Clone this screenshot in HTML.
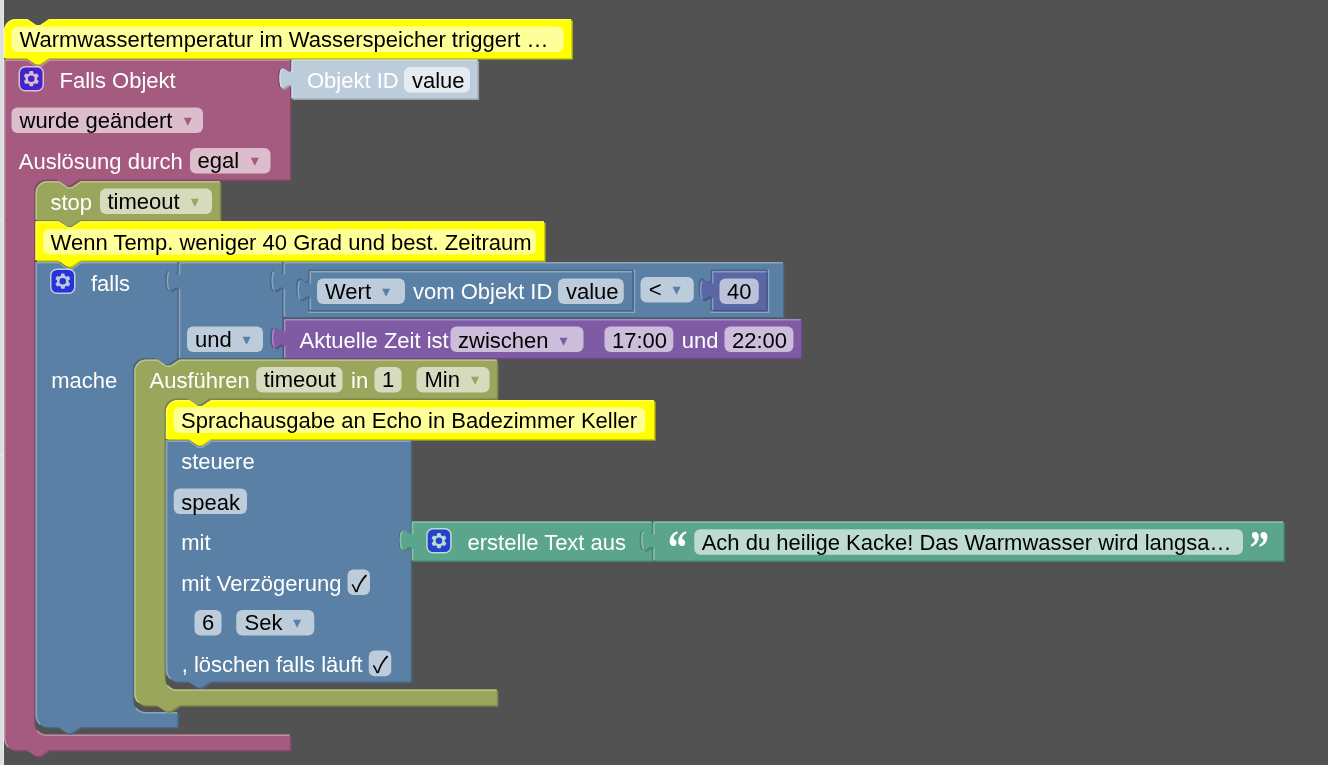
<!DOCTYPE html>
<html><head><meta charset="utf-8"><title>Blockly</title>
<style>
html,body{margin:0;padding:0;background:#525252;overflow:hidden}
svg{display:block}
text{font-family:"Liberation Sans",Arial,sans-serif;font-size:22px;white-space:pre}
text.ar{font-family:"DejaVu Sans","Liberation Sans",sans-serif;font-size:16.2px}
text.ck{font-family:"Noto Sans CJK SC","DejaVu Sans",sans-serif;font-size:22.6px;text-anchor:middle}
text.q{font-family:"Liberation Serif",serif;font-weight:bold;font-size:49px}
</style></head><body>
<svg width="1328" height="765" viewBox="0 0 1328 765">
<rect width="1328" height="765" fill="#525252"/>
<rect x="0" y="0" width="4" height="765" fill="#dddddd"/>
<rect x="3" y="0" width="1" height="765" fill="#e6eaea"/>
<rect x="0" y="219" width="3" height="1" fill="#e8e8e8"/>
<rect x="0" y="455" width="3" height="1" fill="#e8e8e8"/>
<g transform="translate(4,19)">
<path transform="translate(1.5,1.5)" fill="#cccc00" d="M 0 12 a 12 12 0 0 1 12 -12 H 22.5 l 9 6 4.5 0 9 -6 H 567.19 V 39 V 39 H 45 l -9 6 -4.5 0 -9 -6 H 0 z"/>
<path fill="#ffff00" d="M 0 12 a 12 12 0 0 1 12 -12 H 22.5 l 9 6 4.5 0 9 -6 H 567.19 V 39 V 39 H 45 l -9 6 -4.5 0 -9 -6 H 0 z"/>
<path fill="none" stroke="#ffff4c" stroke-width="1.5" stroke-linecap="round" d="M 0.75 11.25 A 11.25 11.25 0 0 1 12 0.75 H 23.25 l 9 6 4.5 0 9 -6 H 566.44 M 0.75 38.25 V 12"/>
</g>
<rect x="11.5" y="26.5" width="551.9" height="25.5" rx="6" ry="6" fill="#ffff99"/>
<text x="19.5" y="46.6" fill="#000">Warmwassertemperatur im Wasserspeicher triggert …</text>
<g transform="translate(4,59.5)">
<path transform="translate(1.5,1.5)" fill="#844966" d="M 0 0 H 22.5 l 9 6 4.5 0 9 -6 H 286 V 0 v 7.5 c 0 15 -12 -12 -12 11.25 s 12 -3.75 12 11.25 V 40.5 V 81 V 120 V 120 H 75 l -9 6 -4.5 0 -9 -6 h -10.5 a 12 12 0 0 0 -12 12 v 530.89 a 12 12 0 0 0 12 12 H 286 V 690.5 V 690.5 H 45 l -9 6 -4.5 0 -9 -6 H 12 a 12 12 0 0 1 -12 -12 z"/>
<path fill="#a55b80" d="M 0 0 H 22.5 l 9 6 4.5 0 9 -6 H 286 V 0 v 7.5 c 0 15 -12 -12 -12 11.25 s 12 -3.75 12 11.25 V 40.5 V 81 V 120 V 120 H 75 l -9 6 -4.5 0 -9 -6 h -10.5 a 12 12 0 0 0 -12 12 v 530.89 a 12 12 0 0 0 12 12 H 286 V 690.5 V 690.5 H 45 l -9 6 -4.5 0 -9 -6 H 12 a 12 12 0 0 1 -12 -12 z"/>
<path fill="none" stroke="#c08ca6" stroke-width="1.5" stroke-linecap="round" d="M 0.75 0.75 H 23.25 l 9 6 4.5 0 9 -6 H 285.25 M 278.5 28.95 l 5.52 -3.15 M 33.51 671.38 a 12.75 12.75 0 0 0 9.24 4.26 H 285.25 M 4.05 687.19 A 11.25 11.25 0 0 1 0.75 678.5 V 0.75"/>
</g>
<g transform="translate(19.25,66.75) scale(1.5)" opacity="0.6"><rect x="0" y="0" width="16" height="16" rx="4" ry="4" fill="#00f" stroke="#fff" stroke-width="1"/><path fill="#fff" d="m4.203,7.296 0,1.368 -0.92,0.677 -0.11,0.41 0.9,1.559 0.41,0.11 1.043,-0.457 1.187,0.683 0.127,1.134 0.3,0.3 1.8,0 0.3,-0.299 0.127,-1.138 1.185,-0.682 1.046,0.458 0.409,-0.11 0.9,-1.559 -0.11,-0.41 -0.92,-0.677 0,-1.366 0.92,-0.677 0.11,-0.41 -0.9,-1.559 -0.409,-0.109 -1.046,0.458 -1.185,-0.682 -0.127,-1.138 -0.3,-0.299 -1.8,0 -0.3,0.3 -0.126,1.135 -1.187,0.682 -1.043,-0.457 -0.41,0.11 -0.899,1.559 0.108,0.409z"/><circle cx="8" cy="8" r="2.7" fill="#00f" stroke="#fff" stroke-width="1"/></g>
<text x="59.5" y="88.1" fill="#fff">Falls Objekt</text>
<rect x="11.5" y="107.5" width="191.5" height="25.5" rx="6" ry="6" fill="#dbbdcc"/>
<text x="19.5" y="127.6" fill="#000">wurde geändert</text>
<text class="ar" x="183.7" y="125.6" fill="#a55b80">&#9662;</text>
<text x="18.8" y="168.6" fill="#fff">Auslösung durch</text>
<rect x="190" y="148" width="80.5" height="25.5" rx="6" ry="6" fill="#dbbdcc"/>
<text x="197.5" y="168.1" fill="#000">egal</text>
<text class="ar" x="250.7" y="166.1" fill="#a55b80">&#9662;</text>
<g transform="translate(291.5,59.5)">
<path transform="translate(1.5,1.5)" fill="#97a3af" d="M 0 0 H 186.1 V 39 V 39 H 0 V 30 c 0 -15 -12 12 -12 -11.25 s 12 3.75 12 -11.25 z"/>
<path fill="#bdccdb" d="M 0 0 H 186.1 V 39 V 39 H 0 V 30 c 0 -15 -12 12 -12 -11.25 s 12 3.75 12 -11.25 z"/>
<path fill="none" stroke="#d1dbe6" stroke-width="1.5" stroke-linecap="round" d="M 0.75 0.75 H 185.35 M 0.75 38.25 V 30 v -2.25 m -11.04 -0.75 q -2.28 -8.25 0 -16.5 m 11.04 1.5 V 0.75"/>
</g>
<text x="307" y="88.1" fill="#fff">Objekt ID</text>
<rect x="404" y="67" width="66" height="25.5" rx="6" ry="6" fill="#e5ebf1"/>
<text x="412" y="88" fill="#000">value</text>
<g transform="translate(35.5,181)">
<path transform="translate(1.5,1.5)" fill="#7a8549" d="M 0 12 a 12 12 0 0 1 12 -12 H 22.5 l 9 6 4.5 0 9 -6 H 184.31 V 39 V 39 H 45 l -9 6 -4.5 0 -9 -6 H 0 z"/>
<path fill="#99a65b" d="M 0 12 a 12 12 0 0 1 12 -12 H 22.5 l 9 6 4.5 0 9 -6 H 184.31 V 39 V 39 H 45 l -9 6 -4.5 0 -9 -6 H 0 z"/>
<path fill="none" stroke="#b8c18c" stroke-width="1.5" stroke-linecap="round" d="M 0.75 11.25 A 11.25 11.25 0 0 1 12 0.75 H 23.25 l 9 6 4.5 0 9 -6 H 183.56 M 0.75 38.25 V 12"/>
</g>
<text x="50.5" y="209.6" fill="#fff">stop</text>
<rect x="100" y="188.4" width="112" height="25.5" rx="6" ry="6" fill="#d6dbbd"/>
<text x="107.5" y="209.1" fill="#000">timeout</text>
<text class="ar" x="190.7" y="207.1" fill="#99a65b">&#9662;</text>
<g transform="translate(35.5,221.2)">
<path transform="translate(1.5,1.5)" fill="#cccc00" d="M 0 0 H 22.5 l 9 6 4.5 0 9 -6 H 508.5 V 39 V 39 H 45 l -9 6 -4.5 0 -9 -6 H 0 z"/>
<path fill="#ffff00" d="M 0 0 H 22.5 l 9 6 4.5 0 9 -6 H 508.5 V 39 V 39 H 45 l -9 6 -4.5 0 -9 -6 H 0 z"/>
<path fill="none" stroke="#ffff4c" stroke-width="1.5" stroke-linecap="round" d="M 0.75 0.75 H 23.25 l 9 6 4.5 0 9 -6 H 507.75 M 0.75 38.25 V 0.75"/>
</g>
<rect x="43" y="229" width="493" height="25.5" rx="6" ry="6" fill="#ffff99"/>
<text x="50.6" y="250" fill="#000">Wenn Temp. weniger 40 Grad und best. Zeitraum</text>
<g transform="translate(35.5,262)">
<path transform="translate(1.5,1.5)" fill="#496684" d="M 0 0 H 22.5 l 9 6 4.5 0 9 -6 H 141.8 V 0 v 7.5 c 0 15 -12 -12 -12 11.25 s 12 -3.75 12 11.25 V 96 V 96 H 142.25 l -9 6 -4.5 0 -9 -6 h -10.5 a 12 12 0 0 0 -12 12 v 330 a 12 12 0 0 0 12 12 H 141.8 V 465 V 465 H 45 l -9 6 -4.5 0 -9 -6 H 12 a 12 12 0 0 1 -12 -12 z"/>
<path fill="#5b80a5" d="M 0 0 H 22.5 l 9 6 4.5 0 9 -6 H 141.8 V 0 v 7.5 c 0 15 -12 -12 -12 11.25 s 12 -3.75 12 11.25 V 96 V 96 H 142.25 l -9 6 -4.5 0 -9 -6 h -10.5 a 12 12 0 0 0 -12 12 v 330 a 12 12 0 0 0 12 12 H 141.8 V 465 V 465 H 45 l -9 6 -4.5 0 -9 -6 H 12 a 12 12 0 0 1 -12 -12 z"/>
<path fill="none" stroke="#8ca6c0" stroke-width="1.5" stroke-linecap="round" d="M 0.75 0.75 H 23.25 l 9 6 4.5 0 9 -6 H 141.05 M 134.3 28.95 l 5.52 -3.15 M 100.75 446.49 a 12.75 12.75 0 0 0 9.24 4.26 H 141.05 M 4.05 461.7 A 11.25 11.25 0 0 1 0.75 453 V 0.75"/>
</g>
<g transform="translate(50.75,269.25) scale(1.5)" opacity="0.6"><rect x="0" y="0" width="16" height="16" rx="4" ry="4" fill="#00f" stroke="#fff" stroke-width="1"/><path fill="#fff" d="m4.203,7.296 0,1.368 -0.92,0.677 -0.11,0.41 0.9,1.559 0.41,0.11 1.043,-0.457 1.187,0.683 0.127,1.134 0.3,0.3 1.8,0 0.3,-0.299 0.127,-1.138 1.185,-0.682 1.046,0.458 0.409,-0.11 0.9,-1.559 -0.11,-0.41 -0.92,-0.677 0,-1.366 0.92,-0.677 0.11,-0.41 -0.9,-1.559 -0.409,-0.109 -1.046,0.458 -1.185,-0.682 -0.127,-1.138 -0.3,-0.299 -1.8,0 -0.3,0.3 -0.126,1.135 -1.187,0.682 -1.043,-0.457 -0.41,0.11 -0.899,1.559 0.108,0.409z"/><circle cx="8" cy="8" r="2.7" fill="#00f" stroke="#fff" stroke-width="1"/></g>
<text x="91" y="290.6" fill="#fff">falls</text>
<text x="51.25" y="387.6" fill="#fff">mache</text>
<g transform="translate(178.8,262)">
<path transform="translate(1.5,1.5)" fill="#496684" d="M 0 0 H 103.31 V 0 v 7.5 c 0 15 -12 -12 -12 11.25 s 12 -3.75 12 11.25 V 57 V 57 v 7.5 c 0 15 -12 -12 -12 11.25 s 12 -3.75 12 11.25 V 96 V 96 H 0 V 30 c 0 -15 -12 12 -12 -11.25 s 12 3.75 12 -11.25 z"/>
<path fill="#5b80a5" d="M 0 0 H 103.31 V 0 v 7.5 c 0 15 -12 -12 -12 11.25 s 12 -3.75 12 11.25 V 57 V 57 v 7.5 c 0 15 -12 -12 -12 11.25 s 12 -3.75 12 11.25 V 96 V 96 H 0 V 30 c 0 -15 -12 12 -12 -11.25 s 12 3.75 12 -11.25 z"/>
<path fill="none" stroke="#8ca6c0" stroke-width="1.5" stroke-linecap="round" d="M 0.75 0.75 H 102.56 M 95.8 28.95 l 5.52 -3.15 M 95.8 85.95 l 5.52 -3.15 M 0.75 95.25 V 30 v -2.25 m -11.04 -0.75 q -2.28 -8.25 0 -16.5 m 11.04 1.5 V 0.75"/>
</g>
<rect x="187" y="326.5" width="76" height="25.5" rx="6" ry="6" fill="#bdccdb"/>
<text x="195" y="346.6" fill="#000">und</text>
<text class="ar" x="242.5" y="344.6" fill="#5b80a5">&#9662;</text>
<g transform="translate(283.6,262)">
<path transform="translate(1.5,1.5)" fill="#496684" d="M 0 0 H 499.39 V 55.05 V 55.05 H 0 V 30 c 0 -15 -12 12 -12 -11.25 s 12 3.75 12 -11.25 z"/>
<path fill="#5b80a5" d="M 0 0 H 499.39 V 55.05 V 55.05 H 0 V 30 c 0 -15 -12 12 -12 -11.25 s 12 3.75 12 -11.25 z"/>
<path fill="none" stroke="#8ca6c0" stroke-width="1.5" stroke-linecap="round" d="M 0.75 0.75 H 498.64 M 0.75 54.3 V 30 v -2.25 m -11.04 -0.75 q -2.28 -8.25 0 -16.5 m 11.04 1.5 V 0.75"/>
</g>
<path transform="translate(308.1,269.5)" fill="#496684" d="M 0 0 H 325.61 V 42 H 0 V 30 c 0 -15 -12 12 -12 -11.25 s 12 3.75 12 -11.25 z"/>
<path transform="translate(308.1,269.5)" fill="none" stroke="#8ca6c0" stroke-width="1.5" stroke-linecap="round" d="M 326.36 0.75 v 42 h -325.61 M 0 7.5 m -7.5 21.45 l 5.52 -3.15"/>
<g transform="translate(309.6,271)">
<path transform="translate(1.5,1.5)" fill="#496684" d="M 0 0 H 322.61 V 39 V 39 H 0 V 30 c 0 -15 -12 12 -12 -11.25 s 12 3.75 12 -11.25 z"/>
<path fill="#5b80a5" d="M 0 0 H 322.61 V 39 V 39 H 0 V 30 c 0 -15 -12 12 -12 -11.25 s 12 3.75 12 -11.25 z"/>
<path fill="none" stroke="#8ca6c0" stroke-width="1.5" stroke-linecap="round" d="M 0.75 0.75 H 321.86 M 0.75 38.25 V 30 v -2.25 m -11.04 -0.75 q -2.28 -8.25 0 -16.5 m 11.04 1.5 V 0.75"/>
</g>
<rect x="317" y="278.5" width="88" height="25.5" rx="6" ry="6" fill="#bdccdb"/>
<text x="325" y="298.6" fill="#000">Wert</text>
<text class="ar" x="382" y="296.6" fill="#5b80a5">&#9662;</text>
<text x="413" y="299.1" fill="#fff">vom Objekt ID</text>
<rect x="558" y="278.5" width="65.75" height="25.5" rx="6" ry="6" fill="#bdccdb"/>
<text x="566" y="298.6" fill="#000">value</text>
<rect x="640.5" y="277" width="53.25" height="25.5" rx="6" ry="6" fill="#bdccdb"/>
<text x="648.75" y="297.1" fill="#000">&lt;</text>
<text class="ar" x="672.5" y="295.1" fill="#5b80a5">&#9662;</text>
<path transform="translate(710.5,269.5)" fill="#496684" d="M 0 0 H 57.2 V 42 H 0 V 30 c 0 -15 -12 12 -12 -11.25 s 12 3.75 12 -11.25 z"/>
<path transform="translate(710.5,269.5)" fill="none" stroke="#8ca6c0" stroke-width="1.5" stroke-linecap="round" d="M 57.95 0.75 v 42 h -57.2 M 0 7.5 m -7.5 21.45 l 5.52 -3.15"/>
<g transform="translate(712,271)">
<path transform="translate(1.5,1.5)" fill="#495284" d="M 0 0 H 54.2 V 39 V 39 H 0 V 30 c 0 -15 -12 12 -12 -11.25 s 12 3.75 12 -11.25 z"/>
<path fill="#5b67a5" d="M 0 0 H 54.2 V 39 V 39 H 0 V 30 c 0 -15 -12 12 -12 -11.25 s 12 3.75 12 -11.25 z"/>
<path fill="none" stroke="#8c95c0" stroke-width="1.5" stroke-linecap="round" d="M 0.75 0.75 H 53.45 M 0.75 38.25 V 30 v -2.25 m -11.04 -0.75 q -2.28 -8.25 0 -16.5 m 11.04 1.5 V 0.75"/>
</g>
<rect x="719.5" y="278.5" width="39.25" height="25.5" rx="6" ry="6" fill="#bdc2db"/>
<text x="727" y="298.6" fill="#000">40</text>
<g transform="translate(284,319)">
<path transform="translate(1.5,1.5)" fill="#664984" d="M 0 0 H 517 V 39 V 39 H 0 V 30 c 0 -15 -12 12 -12 -11.25 s 12 3.75 12 -11.25 z"/>
<path fill="#805ba5" d="M 0 0 H 517 V 39 V 39 H 0 V 30 c 0 -15 -12 12 -12 -11.25 s 12 3.75 12 -11.25 z"/>
<path fill="none" stroke="#a68cc0" stroke-width="1.5" stroke-linecap="round" d="M 0.75 0.75 H 516.25 M 0.75 38.25 V 30 v -2.25 m -11.04 -0.75 q -2.28 -8.25 0 -16.5 m 11.04 1.5 V 0.75"/>
</g>
<text x="299.5" y="348" fill="#fff">Aktuelle Zeit ist</text>
<rect x="450.5" y="326.4" width="133" height="25.6" rx="6" ry="6" fill="#ccbddb"/>
<text x="458" y="348" fill="#000">zwischen</text>
<text class="ar" x="559.5" y="346" fill="#805ba5">&#9662;</text>
<rect x="604.5" y="326.4" width="68.75" height="25.6" rx="6" ry="6" fill="#ccbddb"/>
<text x="612" y="348" fill="#000">17:00</text>
<text x="681.75" y="348" fill="#fff">und</text>
<rect x="724.5" y="326.4" width="68.9" height="25.6" rx="6" ry="6" fill="#ccbddb"/>
<text x="732" y="348" fill="#000">22:00</text>
<g transform="translate(134.2,359.5)">
<path transform="translate(1.5,1.5)" fill="#7a8549" d="M 0 12 a 12 12 0 0 1 12 -12 H 22.5 l 9 6 4.5 0 9 -6 H 362.7 V 39 V 39 H 75.2 l -9 6 -4.5 0 -9 -6 h -10.5 a 12 12 0 0 0 -12 12 v 267.11 a 12 12 0 0 0 12 12 H 362.7 V 345.8 V 345.8 H 45 l -9 6 -4.5 0 -9 -6 H 12 a 12 12 0 0 1 -12 -12 z"/>
<path fill="#99a65b" d="M 0 12 a 12 12 0 0 1 12 -12 H 22.5 l 9 6 4.5 0 9 -6 H 362.7 V 39 V 39 H 75.2 l -9 6 -4.5 0 -9 -6 h -10.5 a 12 12 0 0 0 -12 12 v 267.11 a 12 12 0 0 0 12 12 H 362.7 V 345.8 V 345.8 H 45 l -9 6 -4.5 0 -9 -6 H 12 a 12 12 0 0 1 -12 -12 z"/>
<path fill="none" stroke="#b8c18c" stroke-width="1.5" stroke-linecap="round" d="M 0.75 11.25 A 11.25 11.25 0 0 1 12 0.75 H 23.25 l 9 6 4.5 0 9 -6 H 361.95 M 33.7 326.59 a 12.75 12.75 0 0 0 9.24 4.26 H 361.95 M 4.05 342.5 A 11.25 11.25 0 0 1 0.75 333.8 V 12"/>
</g>
<text x="149.5" y="387.6" fill="#fff">Ausführen</text>
<rect x="256.25" y="367" width="86.25" height="25.5" rx="6" ry="6" fill="#d6dbbd"/>
<text x="263.75" y="387.1" fill="#000">timeout</text>
<text x="351" y="387.6" fill="#fff">in</text>
<rect x="374.5" y="367" width="27" height="25.5" rx="6" ry="6" fill="#d6dbbd"/>
<text x="382" y="387.1" fill="#000">1</text>
<rect x="416.5" y="367" width="73" height="25.5" rx="6" ry="6" fill="#d6dbbd"/>
<text x="424.5" y="387.1" fill="#000">Min</text>
<text class="ar" x="471" y="385.1" fill="#99a65b">&#9662;</text>
<g transform="translate(165.9,400)">
<path transform="translate(1.5,1.5)" fill="#cccc00" d="M 0 12 a 12 12 0 0 1 12 -12 H 22.5 l 9 6 4.5 0 9 -6 H 488.1 V 39 V 39 H 45 l -9 6 -4.5 0 -9 -6 H 0 z"/>
<path fill="#ffff00" d="M 0 12 a 12 12 0 0 1 12 -12 H 22.5 l 9 6 4.5 0 9 -6 H 488.1 V 39 V 39 H 45 l -9 6 -4.5 0 -9 -6 H 0 z"/>
<path fill="none" stroke="#ffff4c" stroke-width="1.5" stroke-linecap="round" d="M 0.75 11.25 A 11.25 11.25 0 0 1 12 0.75 H 23.25 l 9 6 4.5 0 9 -6 H 487.35 M 0.75 38.25 V 12"/>
</g>
<rect x="173.5" y="407.6" width="471.8" height="25.5" rx="6" ry="6" fill="#ffff99"/>
<text x="181" y="428.3" fill="#000">Sprachausgabe an Echo in Badezimmer Keller</text>
<g transform="translate(165.9,440.5)">
<path transform="translate(1.5,1.5)" fill="#496684" d="M 0 0 H 22.5 l 9 6 4.5 0 9 -6 H 244.91 V 40.5 V 81 V 81 v 7.5 c 0 15 -12 -12 -12 11.25 s 12 -3.75 12 11.25 V 121.5 V 162 V 202.5 V 240.9 V 240.9 H 45 l -9 6 -4.5 0 -9 -6 H 12 a 12 12 0 0 1 -12 -12 z"/>
<path fill="#5b80a5" d="M 0 0 H 22.5 l 9 6 4.5 0 9 -6 H 244.91 V 40.5 V 81 V 81 v 7.5 c 0 15 -12 -12 -12 11.25 s 12 -3.75 12 11.25 V 121.5 V 162 V 202.5 V 240.9 V 240.9 H 45 l -9 6 -4.5 0 -9 -6 H 12 a 12 12 0 0 1 -12 -12 z"/>
<path fill="none" stroke="#8ca6c0" stroke-width="1.5" stroke-linecap="round" d="M 0.75 0.75 H 23.25 l 9 6 4.5 0 9 -6 H 244.16 M 237.41 109.95 l 5.52 -3.15 M 4.05 237.6 A 11.25 11.25 0 0 1 0.75 228.9 V 0.75"/>
</g>
<text x="181.25" y="468.6" fill="#fff">steuere</text>
<rect x="173.75" y="488.5" width="73.25" height="25.5" rx="6" ry="6" fill="#bdccdb"/>
<text x="181.25" y="510" fill="#000">speak</text>
<text x="181.25" y="550.1" fill="#fff">mit</text>
<text x="181.25" y="590.6" fill="#fff">mit Verzögerung</text>
<rect x="347.5" y="569.5" width="22.5" height="25.5" rx="6" ry="6" fill="#bdccdb"/>
<text class="ck" x="359.15" y="592" fill="#000">&#10003;</text>
<rect x="194.5" y="610" width="27" height="25.5" rx="6" ry="6" fill="#bdccdb"/>
<text x="202" y="630.1" fill="#000">6</text>
<rect x="236.25" y="610" width="78" height="25.5" rx="6" ry="6" fill="#bdccdb"/>
<text x="244.5" y="630.1" fill="#000">Sek</text>
<text class="ar" x="293" y="628.1" fill="#5b80a5">&#9662;</text>
<text x="181.75" y="671.85" fill="#fff">, löschen falls läuft</text>
<rect x="368.75" y="650.5" width="22.5" height="25.75" rx="6" ry="6" fill="#bdccdb"/>
<text class="ck" x="380.4" y="673.25" fill="#000">&#10003;</text>
<g transform="translate(411.8,521.5)">
<path transform="translate(1.5,1.5)" fill="#498470" d="M 0 0 H 239.95 V 0 v 7.5 c 0 15 -12 -12 -12 11.25 s 12 -3.75 12 11.25 V 39 V 39 H 0 V 30 c 0 -15 -12 12 -12 -11.25 s 12 3.75 12 -11.25 z"/>
<path fill="#5ba58c" d="M 0 0 H 239.95 V 0 v 7.5 c 0 15 -12 -12 -12 11.25 s 12 -3.75 12 11.25 V 39 V 39 H 0 V 30 c 0 -15 -12 12 -12 -11.25 s 12 3.75 12 -11.25 z"/>
<path fill="none" stroke="#8cc0ae" stroke-width="1.5" stroke-linecap="round" d="M 0.75 0.75 H 239.2 M 232.45 28.95 l 5.52 -3.15 M 0.75 38.25 V 30 v -2.25 m -11.04 -0.75 q -2.28 -8.25 0 -16.5 m 11.04 1.5 V 0.75"/>
</g>
<g transform="translate(426.95,528.75) scale(1.5)" opacity="0.6"><rect x="0" y="0" width="16" height="16" rx="4" ry="4" fill="#00f" stroke="#fff" stroke-width="1"/><path fill="#fff" d="m4.203,7.296 0,1.368 -0.92,0.677 -0.11,0.41 0.9,1.559 0.41,0.11 1.043,-0.457 1.187,0.683 0.127,1.134 0.3,0.3 1.8,0 0.3,-0.299 0.127,-1.138 1.185,-0.682 1.046,0.458 0.409,-0.11 0.9,-1.559 -0.11,-0.41 -0.92,-0.677 0,-1.366 0.92,-0.677 0.11,-0.41 -0.9,-1.559 -0.409,-0.109 -1.046,0.458 -1.185,-0.682 -0.127,-1.138 -0.3,-0.299 -1.8,0 -0.3,0.3 -0.126,1.135 -1.187,0.682 -1.043,-0.457 -0.41,0.11 -0.899,1.559 0.108,0.409z"/><circle cx="8" cy="8" r="2.7" fill="#00f" stroke="#fff" stroke-width="1"/></g>
<text x="467.5" y="549.6" fill="#fff">erstelle Text aus</text>
<g transform="translate(653.25,521.5)">
<path transform="translate(1.5,1.5)" fill="#498470" d="M 0 0 H 630.15 V 39 V 39 H 0 V 30 c 0 -15 -12 12 -12 -11.25 s 12 3.75 12 -11.25 z"/>
<path fill="#5ba58c" d="M 0 0 H 630.15 V 39 V 39 H 0 V 30 c 0 -15 -12 12 -12 -11.25 s 12 3.75 12 -11.25 z"/>
<path fill="none" stroke="#8cc0ae" stroke-width="1.5" stroke-linecap="round" d="M 0.75 0.75 H 629.4 M 0.75 38.25 V 30 v -2.25 m -11.04 -0.75 q -2.28 -8.25 0 -16.5 m 11.04 1.5 V 0.75"/>
</g>
<text class="q" transform="translate(667.8,563.6) scale(0.8,1)" fill="#fff">“</text>
<rect x="694.25" y="529.25" width="548.75" height="25.5" rx="6" ry="6" fill="#bddbd1"/>
<text x="701.7" y="550" fill="#000">Ach du heilige Kacke! Das Warmwasser wird langsa…</text>
<text class="q" transform="translate(1249.6,563.6) scale(0.8,1)" fill="#fff">”</text>
</svg>
</body></html>
